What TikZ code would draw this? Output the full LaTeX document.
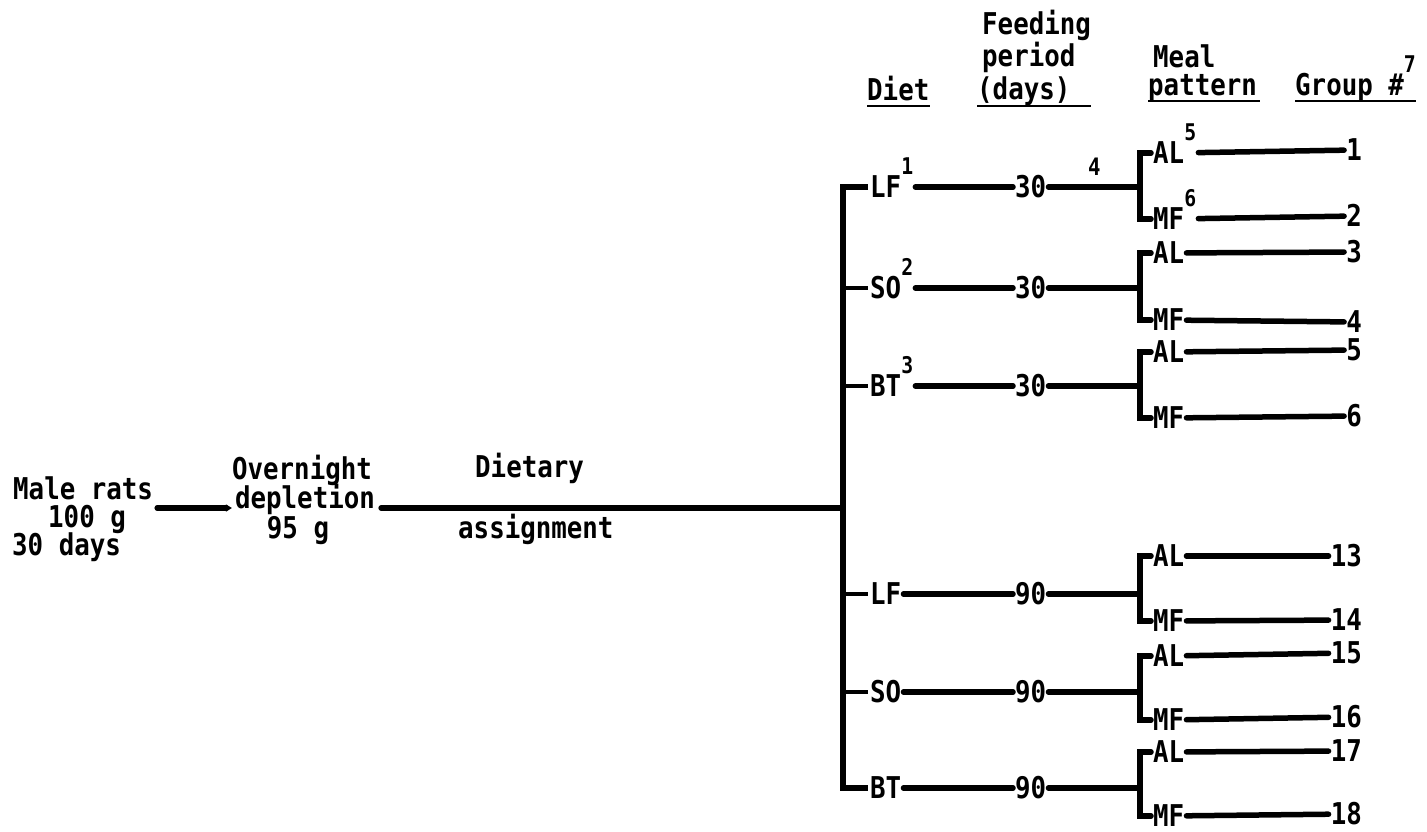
\documentclass[tikz,border=0pt]{standalone}
\usepackage{fontspec}
\newfontfamily\tw{DejaVu Sans Mono}[FakeStretch=0.86]
\usetikzlibrary{arrows.meta}
\newcommand\fn[1]{\smash{\raisebox{23pt}{\fontsize{23}{23}\selectfont #1}}}

\begin{document}
\begin{tikzpicture}[x=1pt,y=-1pt,>=Latex,
  txt/.style={font=\tw\bfseries\fontsize{30}{30}\selectfont,inner sep=0pt},
  lbl/.style={txt,anchor=west,inner sep=2pt,text height=21pt,text depth=0pt},
  num/.style={lbl,anchor=east},
  ln/.style={line width=5.5pt,line cap=round},
  bar/.style={line width=6.5pt},
  stub/.style={line width=4pt},
  ul/.style={line width=2.5pt}]
  \useasboundingbox (0,0) rectangle (1427,831);
  \node[txt,anchor=base west] (feed) at (982,34) {Feeding};
  \node[txt,anchor=base west] (per) at (982,66) {period};
  \node[txt,anchor=base west] (days) at (977,99) {(days)};
  \node[txt,anchor=base west] (diet) at (867,100) {Diet};
  \node[txt,anchor=base west] (meal) at (1153,67) {Meal};
  \node[txt,anchor=base west] (patt) at (1148,95) {pattern};
  \node[txt,anchor=base west] (grp) at (1295,95) {Group \#\fn{7}};
  \draw[ul] ([yshift=-6pt]diet.base west) -- ([yshift=-6pt]diet.base east);
  \draw[ul] ([yshift=-7pt]days.base west) -- ([xshift=20pt,yshift=-7pt]days.base east);
  \draw[ul] ([yshift=-6pt]patt.base west) -- ([xshift=3pt,yshift=-6pt]patt.base east);
  \draw[ul] ([yshift=-6pt]grp.base west) -- ([yshift=-6pt]grp.base east);

  \node[txt,anchor=base west] (rats) at (13,499) {Male rats};
  \node[txt,anchor=base west] (wt) at (48,527) {100 g};
  \node[txt,anchor=base west] (age) at (12,555) {30 days};
  \node[txt,anchor=base] (over) at (302,479) {Overnight};
  \node[txt,anchor=base] (depl) at (305,508) {depletion};
  \node[txt,anchor=base] (wt2) at (298,538) {95 g};
  \node[txt,anchor=base west] (dtry) at (475,477) {Dietary};
  \node[txt,anchor=base west] (asgn) at (458,538) {assignment};
  \coordinate (hub) at (843,508);
  \draw[ln,-{Triangle[length=6pt,width=7pt]}] ([xshift=4pt]rats.east |- hub) -- ([xshift=-3pt]depl.west |- hub);
  \draw[ln] ([xshift=6pt]depl.east |- hub) -- (hub);

  \node[lbl] (lfa) at (868,187) {LF\fn{1}};
  \node[lbl] (soa) at (868,288) {SO\fn{2}};
  \node[lbl] (bta) at (868,386) {BT\fn{3}};
  \node[lbl] (lfb) at (868,594) {LF};
  \node[lbl] (sob) at (868,692) {SO};
  \node[lbl] (btb) at (868,788) {BT};
  \draw[bar] (lfa.west) -| (hub) |- (btb.west);
  \draw[stub] (hub |- soa.west) -- (soa.west);
  \draw[stub] (hub |- bta.west) -- (bta.west);
  \draw[stub] (hub |- lfb.west) -- (lfb.west);
  \draw[stub] (hub |- sob.west) -- (sob.west);

  \node[lbl] (pa1) at (1013,187) {30};
  \node[lbl] (pa2) at (1013,288) {30};
  \node[lbl] (pa3) at (1013,386) {30};
  \node[lbl] (pb1) at (1013,594) {90};
  \node[lbl] (pb2) at (1013,692) {90};
  \node[lbl] (pb3) at (1013,788) {90};

  \node[lbl] (al1) at (1151,153) {AL\fn{5}};
  \node[lbl] (mf1) at (1151,219) {MF\fn{6}};
  \node[lbl] (al2) at (1151,253) {AL};
  \node[lbl] (mf2) at (1151,320) {MF};
  \node[lbl] (al3) at (1151,352) {AL};
  \node[lbl] (mf3) at (1151,418) {MF};
  \node[lbl] (al4) at (1151,556) {AL};
  \node[lbl] (mf4) at (1151,621) {MF};
  \node[lbl] (al5) at (1151,656) {AL};
  \node[lbl] (mf5) at (1151,720) {MF};
  \node[lbl] (al6) at (1151,752) {AL};
  \node[lbl] (mf6) at (1151,816) {MF};

  \node[num] (g1) at (1364,150) {1};
  \node[num] (g2) at (1364,216) {2};
  \node[num] (g3) at (1364,252) {3};
  \node[num] (g4) at (1364,322) {4};
  \node[num] (g5) at (1364,350) {5};
  \node[num] (g6) at (1364,416) {6};
  \node[num] (g13) at (1364,556) {13};
  \node[num] (g14) at (1364,620) {14};
  \node[num] (g15) at (1364,653) {15};
  \node[num] (g16) at (1364,717) {16};
  \node[num] (g17) at (1364,751) {17};
  \node[num] (g18) at (1364,814) {18};

  \draw[ln] (al1.west) -- ++(-11,0) coordinate (k1) |- (mf1.west);
  \draw[ln] (al2.west) -- ++(-11,0) coordinate (k2) |- (mf2.west);
  \draw[ln] (al3.west) -- ++(-11,0) coordinate (k3) |- (mf3.west);
  \draw[ln] (al4.west) -- ++(-11,0) coordinate (k4) |- (mf4.west);
  \draw[ln] (al5.west) -- ++(-11,0) coordinate (k5) |- (mf5.west);
  \draw[ln] (al6.west) -- ++(-11,0) coordinate (k6) |- (mf6.west);

  \draw[ln] (lfa) -- (pa1);
  \draw[ln] (pa1) -- node[midway,above,yshift=9pt,inner sep=0pt,font=\tw\bfseries\fontsize{24}{24}\selectfont] {4} (pa1 -| k1);
  \draw[ln] (soa) -- (pa2);
  \draw[ln] (pa2) -- (pa2 -| k2);
  \draw[ln] (bta) -- (pa3);
  \draw[ln] (pa3) -- (pa3 -| k3);
  \draw[ln] (lfb) -- (pb1);
  \draw[ln] (pb1) -- (pb1 -| k4);
  \draw[ln] (sob) -- (pb2);
  \draw[ln] (pb2) -- (pb2 -| k5);
  \draw[ln] (btb) -- (pb3);
  \draw[ln] (pb3) -- (pb3 -| k6);

  \draw[ln] (al1) -- (g1);
  \draw[ln] (mf1) -- (g2);
  \draw[ln] (al2) -- (g3);
  \draw[ln] (mf2) -- (g4);
  \draw[ln] (al3) -- (g5);
  \draw[ln] (mf3) -- (g6);
  \draw[ln] (al4) -- (g13);
  \draw[ln] (mf4) -- (g14);
  \draw[ln] (al5) -- (g15);
  \draw[ln] (mf5) -- (g16);
  \draw[ln] (al6) -- (g17);
  \draw[ln] (mf6) -- (g18);
\end{tikzpicture}
\end{document}
